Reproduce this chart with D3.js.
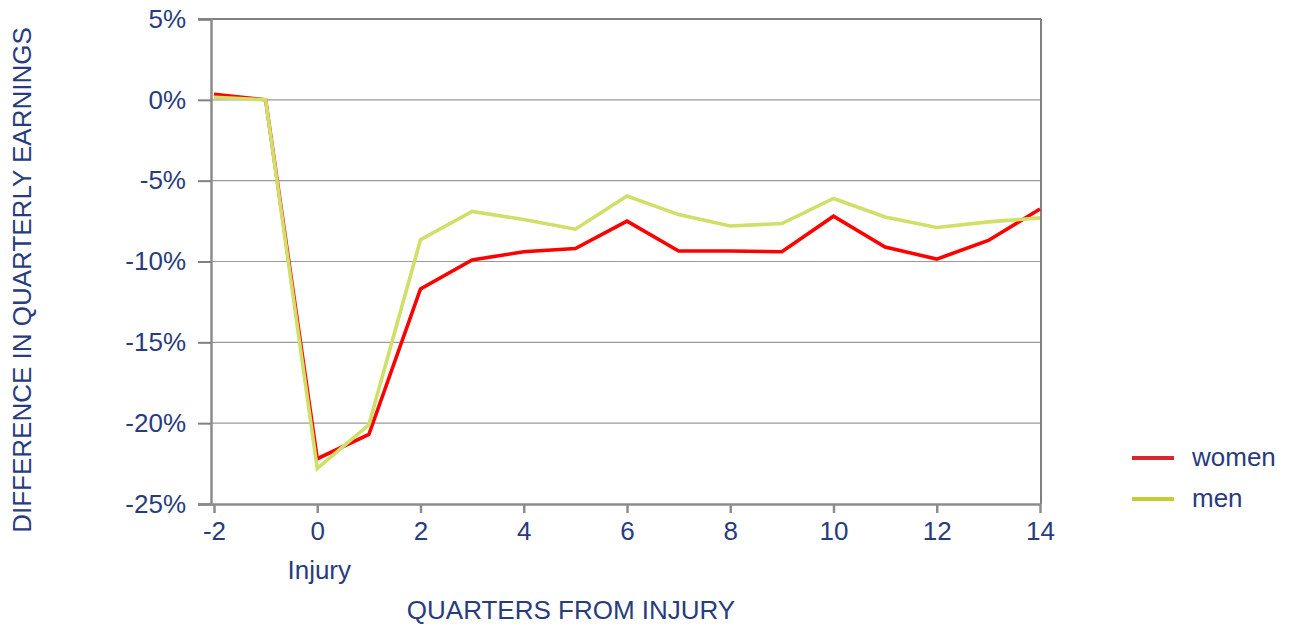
<!DOCTYPE html>
<html>
<head>
<meta charset="utf-8">
<script src="https://cdn.jsdelivr.net/npm/d3@7"></script>
<style>
  body { margin: 0; background: #fff; }
  text { font-family: "Liberation Sans", Arial, sans-serif; fill: #283c7d; }
</style>
</head>
<body>
<svg id="chart" width="1291" height="626"></svg>
<script>
const quarters = [-2, -1, 0, 1, 2, 3, 4, 5, 6, 7, 8, 9, 10, 11, 12, 13, 14];
const women = [0.35, 0, -22.2, -20.7, -11.7, -9.9, -9.4, -9.2, -7.5, -9.35, -9.35, -9.4, -7.2, -9.1, -9.85, -8.7, -6.75];
const men   = [0.15, 0, -22.8, -20.1, -8.65, -6.9, -7.4, -8.0, -5.95, -7.1, -7.8, -7.65, -6.1, -7.25, -7.9, -7.55, -7.3];
const xTicks = [-2, 0, 2, 4, 6, 8, 10, 12, 14];
const yTicks = [5, 0, -5, -10, -15, -20, -25];
const seriesNames = ["women", "men"];
const lineColors = ["#ff0000", "#cfdf68"];
const legendColors = ["#d9252d", "#c9cb32"];

const FS = "26px";
const svg = d3.select("#chart");
const pLeft = 211, pRight = 1041, pTop = 19, pBottom = 504;
const x = d3.scaleLinear().domain([-2, 14]).range([214, 1040]);
const y = d3.scaleLinear().domain([-25, 5]).range([pBottom, pTop]);

// gridlines
svg.append("g").selectAll("line").data(yTicks.filter(d => d !== 5 && d !== -25)).join("line")
  .attr("x1", pLeft).attr("x2", pRight).attr("y1", d => y(d)).attr("y2", d => y(d))
  .attr("stroke", "#9a9a9a").attr("stroke-width", 1.2);

// top and right border
svg.append("line").attr("x1", 198).attr("x2", pRight).attr("y1", pTop).attr("y2", pTop)
  .attr("stroke", "#808080").attr("stroke-width", 2);
svg.append("line").attr("x1", pRight).attr("x2", pRight).attr("y1", pTop).attr("y2", pBottom)
  .attr("stroke", "#808080").attr("stroke-width", 2);

// y axis
const yAxis = d3.axisLeft(y).tickValues(yTicks).tickSize(13).tickPadding(12).tickFormat(d => String(d) + "%");
const gy = svg.append("g").attr("transform", `translate(${pLeft},0)`).call(yAxis);
gy.select(".domain").attr("stroke", "#8c8c8c").attr("stroke-width", 2.5);
gy.selectAll(".tick line").attr("stroke", "#808080").attr("stroke-width", 2);
gy.selectAll(".tick text").style("font-size", FS).attr("fill", "#283c7d")
  .style("font-family", "'Liberation Sans', Arial, sans-serif");

// x axis
const xAxis = d3.axisBottom(x).tickValues(xTicks).tickSize(9).tickPadding(9).tickFormat(d => String(d));
const gx = svg.append("g").attr("transform", `translate(0,${pBottom})`).call(xAxis);
gx.select(".domain").attr("d", `M198,0.5H${pRight}`).attr("stroke", "#8c8c8c").attr("stroke-width", 2.5);
gx.selectAll(".tick line").attr("stroke", "#8c8c8c").attr("stroke-width", 2.5);
gx.selectAll(".tick text").style("font-size", FS).attr("fill", "#283c7d")
  .style("font-family", "'Liberation Sans', Arial, sans-serif");

// lines
const line = d3.line().x((d, i) => x(quarters[i])).y(d => y(d));
[women, men].forEach((s, k) => {
  svg.append("path").datum(s).attr("d", line)
    .attr("fill", "none").attr("stroke", lineColors[k]).attr("stroke-width", 3.6)
    .attr("stroke-linejoin", "miter");
});

// axis titles
svg.append("text").attr("x", x(0) + 2).attr("y", 579).attr("text-anchor", "middle")
  .style("font-size", FS).text("Injury");
svg.append("text").attr("x", 571).attr("y", 619).attr("text-anchor", "middle")
  .style("font-size", FS).text("QUARTERS FROM INJURY");
svg.append("text").attr("transform", "translate(31,280) rotate(-90)").attr("text-anchor", "middle")
  .style("font-size", FS).text("DIFFERENCE IN QUARTERLY EARNINGS");

// legend
const lg = svg.append("g").selectAll("g").data(seriesNames).join("g")
  .attr("transform", (d, i) => `translate(1132,${458 + i * 41})`);
lg.append("line").attr("x1", 0).attr("x2", 42).attr("y1", 0).attr("y2", 0)
  .attr("stroke", (d, i) => legendColors[i]).attr("stroke-width", 4);
lg.append("text").attr("x", 60).attr("y", 8).style("font-size", FS).text(d => d);
</script>
</body>
</html>
